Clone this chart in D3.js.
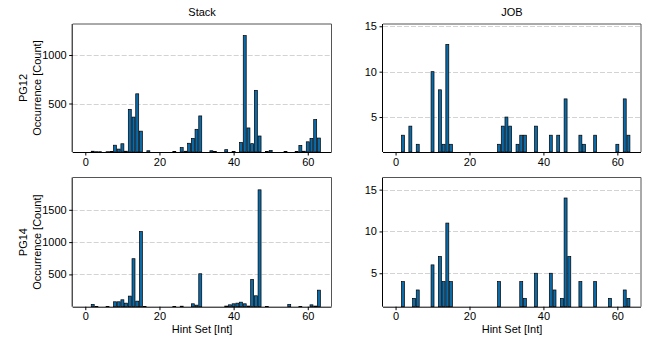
<!DOCTYPE html>
<html><head><meta charset="utf-8">
<script src="https://cdn.jsdelivr.net/npm/d3@7"></script>
<style>body{margin:0;background:#fff}svg{display:block;font-family:"Liberation Sans",Arial,sans-serif}</style>
</head><body><svg id="c" width="648" height="339"></svg>
<script>
const hintSets = d3.range(64);
const xTicks = [0, 20, 40, 60];
const colTitles = ["Stack", "JOB"];
const rowLabels = ["PG12", "PG14"];
const xLabel = "Hint Set [Int]";
const yLabel = "Occurrence [Count]";

const stackPG12 = [0,0,8,3,3,0,3,5,70,30,85,8,440,360,600,215,0,13,0,0,0,0,0,0,5,0,45,8,90,140,234,372,0,0,13,5,0,0,24,0,5,0,98,1200,248,86,636,165,0,5,16,0,0,0,4,0,0,5,68,8,105,140,334,144];
const jobPG12 = [0,0,3,0,4,0,2,0,0,0,10,0,8,2,13,2,0,0,0,0,0,0,0,0,0,0,0,0,2,4,5,4,0,2,3,3,0,0,4,0,0,0,3,0,3,0,7,0,0,0,3,2,0,0,3,0,0,0,0,0,2,0,7,3];
const stackPG14 = [0,0,35,5,0,0,3,0,76,76,107,55,164,743,86,1163,5,0,0,0,0,0,0,0,3,0,8,0,0,45,24,510,0,0,0,0,0,0,10,29,45,55,70,45,10,422,169,1809,0,3,0,0,0,0,0,34,0,0,5,0,0,29,10,256];
const jobPG14 = [0,0,4,0,0,2,3,0,0,0,6,0,7,4,11,4,0,0,0,0,0,0,0,0,0,0,0,0,4,0,0,0,0,0,4,2,0,0,5,0,0,0,5,3,0,2,14,7,0,0,4,0,0,0,4,0,0,0,2,0,0,0,3,2];

const yTicksStack12 = [500, 1000];
const yTicksStack14 = [500, 1000, 1500];
const yTicksJob = [5, 10, 15];

const panels = [
  {data: stackPG12, col: 0, row: 0, yDom: [0, 1320], yTicks: yTicksStack12},
  {data: jobPG12,   col: 1, row: 0, yDom: [1.15, 15.25], yTicks: yTicksJob},
  {data: stackPG14, col: 0, row: 1, yDom: [0, 2000], yTicks: yTicksStack14},
  {data: jobPG14,   col: 1, row: 1, yDom: [1.0, 16.45], yTicks: yTicksJob}
];

const colX = [[72.7, 331.5], [383, 641]];
const rowY = [[24, 152], [177.5, 306.7]];
const barColor = "#0b6aa8";
const svg = d3.select("#c");

panels.forEach(p => {
  const [x0, x1] = colX[p.col];
  const [y0, y1] = rowY[p.row];
  const x = d3.scaleLinear().domain([-3.4, 66.4]).range([x0, x1]);
  const y = d3.scaleLinear().domain(p.yDom).range([y1, y0]).clamp(true);
  const g = svg.append("g");

  // grid
  g.selectAll("line.grid").data(p.yTicks).join("line")
    .attr("x1", x0).attr("x2", x1)
    .attr("y1", d => Math.round(y(d)) + 0.5).attr("y2", d => Math.round(y(d)) + 0.5)
    .attr("stroke", "#c8c8c8").attr("stroke-width", 0.8).attr("stroke-dasharray", "5,2");

  // bars
  const vals = hintSets.map(i => ({i, v: p.data[i]})).filter(d => d.v > 0);
  g.selectAll("rect.bar").data(vals).join("rect")
    .attr("x", d => x(d.i - 0.4))
    .attr("width", d => x(d.i + 0.4) - x(d.i - 0.4))
    .attr("y", d => y(d.v))
    .attr("height", d => y(p.yDom[0]) - y(d.v))
    .attr("fill", barColor).attr("stroke", "#000").attr("stroke-width", 0.7);

  // frame top/right
  g.append("line").attr("x1", x0).attr("x2", x1).attr("y1", y0).attr("y2", y0).attr("stroke", "#555").attr("stroke-width", 1);
  g.append("line").attr("x1", x1).attr("x2", x1).attr("y1", y0).attr("y2", y1).attr("stroke", "#555").attr("stroke-width", 1);

  // axes
  const xa = g.append("g").attr("transform", `translate(0,${y1})`)
    .call(d3.axisBottom(x).tickValues(xTicks).tickSize(3.5).tickPadding(2.5).tickFormat(d3.format("d")));
  xa.select(".domain").attr("stroke", "#000").attr("d", `M${x0},0.5H${x1}`);
  const ya = g.append("g").attr("transform", `translate(${x0},0)`)
    .call(d3.axisLeft(y).tickValues(p.yTicks).tickSize(3.5).tickPadding(2.5).tickFormat(d3.format("d")));
  ya.select(".domain").attr("stroke", "#000").attr("d", `M-0.5,${y0}V${y1}`);
  g.selectAll(".tick text").attr("font-size", 11).attr("fill", "#000").attr("font-family", "'Liberation Sans',Arial,sans-serif");
  g.selectAll(".tick line").attr("stroke", "#000");

  if (p.row === 0) {
    svg.append("text").attr("x", (x0 + x1) / 2).attr("y", 16).attr("text-anchor", "middle")
      .attr("font-size", 11).text(colTitles[p.col]);
  }
  if (p.row === 1) {
    svg.append("text").attr("x", (x0 + x1) / 2).attr("y", 333).attr("text-anchor", "middle")
      .attr("font-size", 11).text(xLabel);
  }
  if (p.col === 0) {
    const cy = (y0 + y1) / 2;
    svg.append("text").attr("transform", `translate(27,${cy}) rotate(-90)`).attr("text-anchor", "middle")
      .attr("font-size", 11).text(rowLabels[p.row]);
    svg.append("text").attr("transform", `translate(41,${cy}) rotate(-90)`).attr("text-anchor", "middle")
      .attr("font-size", 11).text(yLabel);
  }
});
</script></body></html>
